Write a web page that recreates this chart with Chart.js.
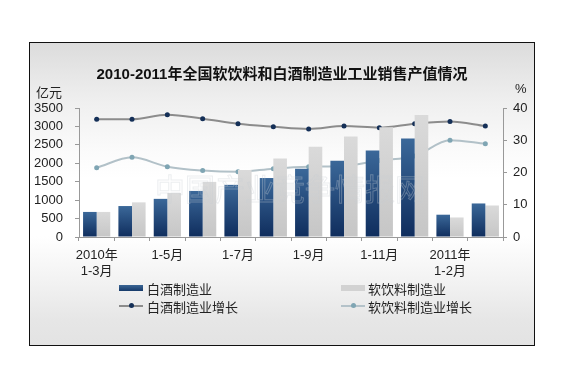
<!DOCTYPE html>
<html><head><meta charset="utf-8">
<script src="https://cdn.jsdelivr.net/npm/chart.js@4/dist/chart.umd.min.js"></script>
<style>
html,body{margin:0;padding:0;background:#fff;width:573px;height:380px;overflow:hidden;font-family:"Liberation Sans","Noto Sans CJK SC",sans-serif;}
#frame{position:absolute;left:29px;top:42px;width:504px;height:302px;border:1px solid #111;
background:linear-gradient(to bottom,#dcdcdc 0%,#eeeeee 18%,#fbfbfb 36%,#ffffff 45%,#ffffff 64%,#f3f3f3 78%,#e6e6e6 92%,#e3e3e3 100%);}
#c{position:absolute;left:0;top:0;}
.t{position:absolute;white-space:nowrap;color:#222;}
#title{left:0;width:504px;text-align:center;top:19px;font-weight:bold;font-size:15px;color:#111;}
.lg{position:absolute;font-size:13px;color:#222;white-space:nowrap;font-family:"Noto Sans CJK SC",sans-serif;}
.sw{position:absolute;}
</style></head>
<body>
<div id="frame">
<canvas id="c" width="504" height="302"></canvas>
<div id="title" class="t">2010-2011年全国软饮料和白酒制造业工业销售产值情况</div>
<div class="t" style="left:6px;top:39px;font-size:13px;font-family:'Noto Sans CJK SC',sans-serif;">亿元</div>
<div class="t" style="left:485px;top:38px;font-size:13px;">%</div>
<div class="sw" style="left:89px;top:242px;width:24px;height:6px;background:linear-gradient(#3a6594,#163a6a);"></div>
<div class="lg" style="left:117px;top:236px;">白酒制造业</div>
<div class="sw" style="left:311px;top:242px;width:24px;height:6px;background:#d2d2d2;"></div>
<div class="lg" style="left:338px;top:236px;">软饮料制造业</div>
<div class="sw" style="left:89px;top:262px;width:24px;height:2px;background:#8c8c8c;"></div>
<div class="sw" style="left:99px;top:260px;width:5px;height:5px;border-radius:50%;background:#142f57;"></div>
<div class="lg" style="left:117px;top:254px;">白酒制造业增长</div>
<div class="sw" style="left:311px;top:262px;width:24px;height:2px;background:#b4c2c9;"></div>
<div class="sw" style="left:321px;top:260px;width:5px;height:5px;border-radius:50%;background:#7fa5b3;"></div>
<div class="lg" style="left:338px;top:254px;">软饮料制造业增长</div>
</div>
<script>
const categories = ['2010年1-3月','1-4月','1-5月','1-6月','1-7月','1-8月','1-9月','1-10月','1-11月','1-12月','2011年1-2月','1-3月'];
const tickLabels = [['2010年','1-3月'],'','1-5月','','1-7月','','1-9月','','1-11月','',['2011年','1-2月'],''];
const baijiuOutput = [680, 840, 1035, 1250, 1415, 1600, 1850, 2070, 2345, 2670, 605, 910];
const softDrinkOutput = [680, 940, 1195, 1495, 1815, 2130, 2450, 2725, 2980, 3310, 530, 855];
const baijiuGrowth = [36.5, 36.5, 37.9, 36.7, 35.1, 34.2, 33.5, 34.4, 33.9, 35.1, 35.8, 34.4];
const softDrinkGrowth = [21.5, 24.7, 21.8, 20.6, 20.2, 21.2, 21.8, 22.0, 23.7, 25.1, 30.0, 28.9];
const leftTicks = [0,500,1000,1500,2000,2500,3000,3500];
const rightTicks = [0,10,20,30,40];

function barGrad(ctx, top, bottom){
  const chart = ctx.chart;
  if(!chart.chartArea) return top;
  const y = chart.scales.y;
  const v = ctx.parsed ? ctx.parsed.y : 0;
  const yTop = y.getPixelForValue(v), yBot = y.getPixelForValue(0);
  if(!isFinite(yTop) || yTop===yBot) return top;
  const g = chart.ctx.createLinearGradient(0, yTop, 0, yBot);
  g.addColorStop(0, top); g.addColorStop(1, bottom);
  return g;
}

const watermark = {
  id:'watermark',
  afterDatasetsDraw(chart){
    const c = chart.ctx;
    c.save();
    c.font = '30px "Noto Sans CJK SC"';
    c.textAlign='center'; c.textBaseline='middle';
    c.strokeStyle='rgba(200,206,212,0.35)';
    c.lineWidth=1;
    c.strokeText('中国产业竞争情报网', 260, 146);
    c.restore();
  }
};

new Chart(document.getElementById('c'), {
  data:{
    labels: categories,
    datasets:[
      {type:'bar', label:'白酒制造业', data:baijiuOutput, yAxisID:'y', order:1,
       backgroundColor:(ctx)=>barGrad(ctx,'#3b6899','#0f2d5d'),
       categoryPercentage:0.77, barPercentage:1.0},
      {type:'bar', label:'软饮料制造业', data:softDrinkOutput, yAxisID:'y', order:1,
       backgroundColor:(ctx)=>barGrad(ctx,'#dadada','#c6c6c6'),
       categoryPercentage:0.77, barPercentage:1.0},
      {type:'line', label:'白酒制造业增长', data:baijiuGrowth, yAxisID:'y1', order:2,
       borderColor:'#8c8c8c', borderWidth:2, tension:0.4, cubicInterpolationMode:'monotone',
       pointRadius:2.5, pointBackgroundColor:'#142f57', pointBorderColor:'#142f57', pointBorderWidth:0},
      {type:'line', label:'软饮料制造业增长', data:softDrinkGrowth, yAxisID:'y1', order:2,
       borderColor:'#b2c1c8', borderWidth:2, tension:0.4, cubicInterpolationMode:'monotone',
       pointRadius:2.5, pointBackgroundColor:'#7fa5b3', pointBorderColor:'#7fa5b3', pointBorderWidth:0}
    ]
  },
  options:{
    responsive:false, animation:false,
    layout:{padding:{top:65,left:0,right:0,bottom:0}},
    plugins:{legend:{display:false}, tooltip:{enabled:false}, title:{display:false}},
    scales:{
      x:{
        offset:true,
        grid:{display:true, drawOnChartArea:false, drawTicks:true, tickLength:4, color:'#999', offset:true},
        border:{display:true, color:'#999'},
        ticks:{autoSkip:false, maxRotation:0, padding:7, color:'#222',
          font:{size:13, family:'"Liberation Sans","Noto Sans CJK SC"', lineHeight:1.2},
          callback:(v,i)=>tickLabels[i]},
        afterFit:(s)=>{s.height=108;}
      },
      y:{
        position:'left', min:0, max:3500,
        afterBuildTicks:(s)=>{s.ticks = leftTicks.map(v=>({value:v}));},
        grid:{display:true, drawOnChartArea:false, drawTicks:true, tickLength:4, color:'#999'},
        border:{display:true, color:'#999'},
        ticks:{autoSkip:false, padding:12, color:'#222', font:{size:13, family:'"Liberation Sans"'},
          callback:(v)=>String(v)},
        afterFit:(s)=>{s.width=49;}
      },
      y1:{
        position:'right', min:0, max:40,
        afterBuildTicks:(s)=>{s.ticks = rightTicks.map(v=>({value:v}));},
        grid:{display:true, drawOnChartArea:false, drawTicks:true, tickLength:4, color:'#999'},
        border:{display:true, color:'#999'},
        ticks:{autoSkip:false, padding:6, color:'#222', font:{size:13, family:'"Liberation Sans"'},
          callback:(v)=>String(v)},
        afterFit:(s)=>{s.width=31;}
      }
    }
  },
  plugins:[watermark]
});
</script>
</body></html>
